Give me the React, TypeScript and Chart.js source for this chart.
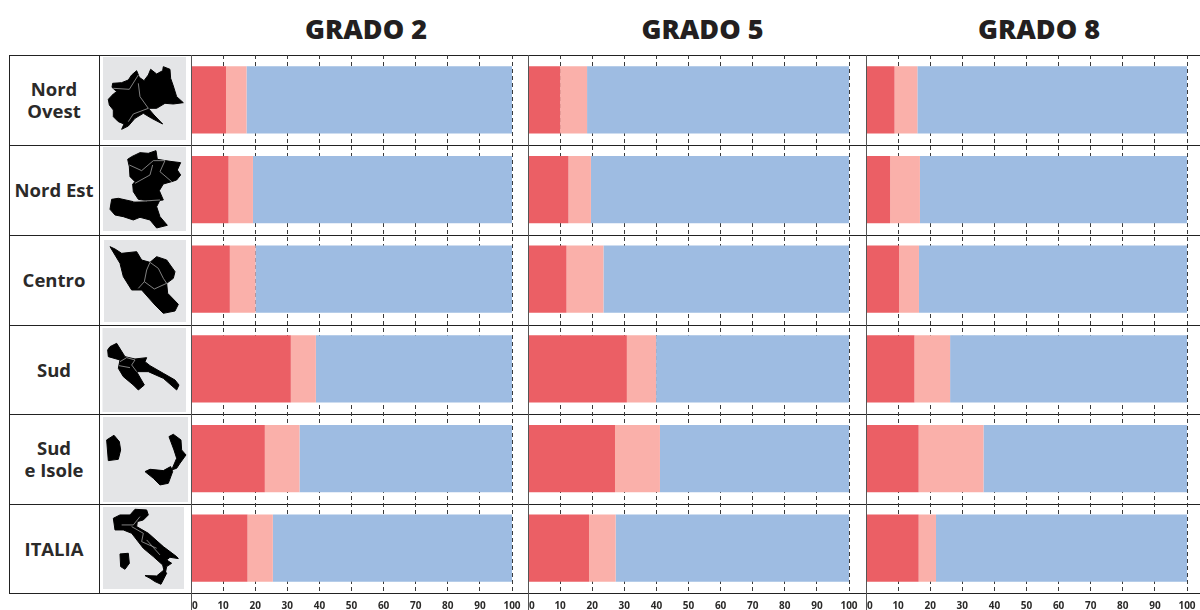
import React, { useEffect, useRef } from "react";
import { Chart, registerables } from "chart.js";

Chart.register(...registerables);

const regions = ["Nord Ovest", "Nord Est", "Centro", "Sud", "Sud e Isole", "ITALIA"];
const grades = ["GRADO 2", "GRADO 5", "GRADO 8"];
const tickValues = [0, 10, 20, 30, 40, 50, 60, 70, 80, 90, 100];

const grado2Red = [10.9, 11.7, 12.1, 31.1, 23, 17.6];
const grado2Pink = [6.4, 7.6, 8, 7.8, 10.8, 7.9];
const grado2Blue = [82.7, 80.7, 79.9, 61.1, 66.2, 74.5];

const grado5Red = [10, 12.6, 12, 30.8, 27.1, 19];
const grado5Pink = [8.4, 7, 11.5, 9.1, 14, 8.3];
const grado5Blue = [81.6, 80.4, 76.5, 60.1, 58.9, 72.7];

const grado8Red = [8.9, 7.5, 10.3, 15.1, 16.4, 16.4];
const grado8Pink = [7.1, 9.3, 6.2, 11.1, 20.2, 5.4];
const grado8Blue = [84, 83.2, 83.5, 73.8, 63.4, 78.2];

const panelValues = [
  [grado2Red, grado2Pink, grado2Blue],
  [grado5Red, grado5Pink, grado5Blue],
  [grado8Red, grado8Pink, grado8Blue],
];
const seriesNames = ["Rosso", "Rosa", "Azzurro"];
const seriesColors = ["#EB5F65", "#FAB0AA", "#9EBCE2"];

const PANEL_X = [191, 528, 866];
const PANEL_W = 321;
const PAD = 16;
const TOP = 55;
const BOTTOM = 593;
const ROW_LINES = [55, 145, 235, 325, 414, 504, 593];

const FONT = '"Open Sans", "Noto Sans", sans-serif';

function Panel({ index }: { index: number }) {
  const ref = useRef<HTMLCanvasElement>(null);
  useEffect(() => {
    const chart = new Chart(ref.current!, {
      type: "bar",
      data: {
        labels: regions,
        datasets: panelValues[index].map((values, i) => ({
          label: seriesNames[i],
          data: values,
          backgroundColor: seriesColors[i],
          borderWidth: 0,
          barPercentage: 0.75,
          categoryPercentage: 1,
        })),
      },
      options: {
        indexAxis: "y",
        responsive: false,
        animation: false,
        layout: { padding: { left: PAD, right: PAD, top: 0, bottom: 0 }, autoPadding: false },
        plugins: { legend: { display: false }, tooltip: { enabled: false }, title: { display: false } },
        scales: {
          x: {
            stacked: true,
            min: 0,
            max: 100,
            afterFit: (s: any) => { s.height = 610 - BOTTOM; },
            afterBuildTicks: (s: any) => { s.ticks = tickValues.map((value) => ({ value })); },
            border: { display: false, dash: [4, 3] },
            grid: { color: "#3a3a3a", lineWidth: 1, drawTicks: false },
            ticks: {
              autoSkip: false,
              maxRotation: 0,
              padding: 7,
              color: "#2b2a29",
              font: { family: FONT, size: 10, weight: "bold" },
              callback: (v: number) => (v === 0 ? "   0" : String(v)),
            },
          },
          y: { stacked: true, display: false, grid: { display: false } },
        },
      },
    } as any);
    return () => chart.destroy();
  }, [index]);
  return (
    <canvas
      ref={ref}
      width={PANEL_W + 2 * PAD}
      height={610 - TOP}
      style={{ position: "absolute", left: PANEL_X[index] - PAD, top: TOP, display: "block" }}
    />
  );
}

const tiles = [
  [103, 57, 83, 83],
  [103, 147, 83, 84],
  [104, 240, 82, 82],
  [102.5, 328, 83.5, 84],
  [103, 417, 85, 85],
  [103, 507, 81, 82],
];

const maps: { shapes: string[]; borders: string[] }[] = [
  {
    shapes: ["M325,298 L340,282 L350,275 L336,262 L338,250 L365,248 L385,240 L395,225 L410,212 L418,232 L432,242 L445,225 L452,208 L470,222 L488,212 L490,200 L510,208 L512,235 L520,258 L530,290 L550,308 L520,312 L495,310 L470,325 L445,325 L462,345 L488,372 L455,355 L430,340 L405,355 L385,378 L365,388 L372,372 L355,365 L340,350 L340,330 L328,315 Z"],
    borders: ["M340,265 L388,268 L415,225 M415,250 L420,290 L445,325 L400,342 L385,365"],
  },
  {
    shapes: [
      "M383,478 L395,470 L420,458 L445,460 L468,452 L472,478 L510,484 L542,488 L532,510 L542,525 L530,540 L515,545 L490,552 L478,572 L490,600 L470,602 L445,603 L415,598 L400,575 L398,552 L405,545 L390,530 L388,500 Z",
      "M330,628 L335,598 L355,595 L400,605 L440,605 L480,600 L470,620 L480,650 L502,676 L470,684 L450,660 L420,652 L400,660 L370,650 L345,645 Z",
    ],
    borders: ["M388,495 L425,512 L460,482 L495,482 L480,515 L515,545 M458,495 L450,525 L405,550 M400,605 L480,600"],
  },
  {
    shapes: ["M45,35 L60,42 L80,55 L125,50 L140,75 L165,82 L185,65 L215,75 L240,110 L235,130 L215,145 L218,175 L250,208 L240,228 L205,235 L180,210 L140,165 L110,165 L85,125 L75,85 Z"],
    borders: ["M165,82 L190,100 L205,130 L215,145 L178,162 L148,140 L155,105 Z M148,140 L130,160"],
  },
  {
    shapes: ["M38,345 L45,335 L65,325 L90,365 L120,372 L155,368 L150,380 L165,392 L205,415 L240,435 L252,450 L245,465 L205,430 L160,410 L125,410 L148,450 L130,465 L115,450 L85,425 L70,400 L75,375 L40,365 Z"],
    borders: ["M75,380 L95,368 L120,375 L110,390 L125,410 M72,392 L105,398"],
  },
  {
    shapes: [
      "M320,1320 L342,1306 L358,1325 L362,1350 L355,1378 L325,1382 Z",
      "M507,1310 L520,1303 L543,1320 L545,1350 L558,1365 L540,1390 L530,1405 L515,1410 L530,1375 L522,1350 Z",
      "M435,1415 L450,1408 L490,1412 L512,1400 L518,1415 L505,1450 L480,1455 L460,1435 Z",
    ],
    borders: [],
  },
  {
    shapes: [
      "M340,1555 L360,1545 L390,1545 L405,1528 L440,1530 L445,1545 L430,1560 L412,1565 L410,1580 L445,1600 L490,1640 L530,1670 L535,1676 L510,1672 L500,1680 L515,1690 L500,1700 L495,1725 L488,1695 L460,1670 L430,1645 L395,1600 L370,1590 L345,1590 Z",
      "M360,1662 L385,1660 L388,1690 L375,1708 L362,1700 Z",
      "M435,1727 L470,1728 L492,1710 L500,1720 L483,1753 L465,1745 L450,1735 Z",
    ],
    borders: ["M365,1575 L400,1575 L420,1550 M395,1580 L430,1600 L425,1625 L470,1645 M440,1620 L480,1665"],
  },
];

function Maps() {
  return (
    <svg
      width={1200}
      height={610}
      viewBox="0 0 1200 610"
      style={{ position: "absolute", left: 0, top: 0, display: "block" }}
    >
      {maps.map((m, i) => (
        <g key={i}>
          <rect x={tiles[i][0]} y={tiles[i][1]} width={tiles[i][2]} height={tiles[i][3]} fill="#E4E5E7" />
          <g transform={i === 2 || i === 3 ? "translate(95,235) scale(0.3333)" : "scale(0.3333)"}>
            {m.shapes.map((d, j) => (
              <path key={j} d={d} fill="#000" stroke="#000" strokeWidth={3} strokeLinejoin="round" />
            ))}
            {m.borders.map((d, j) => (
              <path key={j} d={d} fill="none" stroke="#9a9a9a" strokeWidth={2.5} />
            ))}
          </g>
        </g>
      ))}
    </svg>
  );
}

const labelLines = [["Nord", "Ovest"], ["Nord Est"], ["Centro"], ["Sud"], ["Sud", "e Isole"], ["ITALIA"]];
const titleCenters = [366, 702.5, 1039];

export default function App() {
  return (
    <div style={{ position: "absolute", left: 0, top: 0, width: 1200, height: 610, overflow: "hidden", background: "#fff", fontFamily: FONT }}>
      <Maps />
      {ROW_LINES.map((y) => (
        <div key={y} style={{ position: "absolute", left: 9, width: 1191, top: y, height: 1, background: "#222" }} />
      ))}
      {PANEL_X.map((_, i) => <Panel key={i} index={i} />)}
      {[9, 99].map((x) => (
        <div key={x} style={{ position: "absolute", left: x, top: TOP, width: 1, height: BOTTOM - TOP + 1, background: "#222" }} />
      ))}
      {PANEL_X.map((x) => (
        <div key={x} style={{ position: "absolute", left: x, top: TOP, width: 1, height: 610 - TOP, background: "#555" }} />
      ))}
      {grades.map((g, i) => (
        <div
          key={g}
          style={{
            position: "absolute", left: titleCenters[i] - 100, width: 200, top: 9, height: 40,
            lineHeight: "40px", textAlign: "center", fontSize: 27, fontWeight: 800, color: "#231F20",
          }}
        >
          {g}
        </div>
      ))}
      {labelLines.map((lines, i) => (
        <div
          key={i}
          style={{
            position: "absolute", left: 9, width: 90, top: ROW_LINES[i], height: ROW_LINES[i + 1] - ROW_LINES[i],
            display: "flex", flexDirection: "column", justifyContent: "center", alignItems: "center",
            fontSize: 18.5, lineHeight: "22px", fontWeight: 700, color: "#2B2A29",
          }}
        >
          {lines.map((l) => <div key={l} style={{ whiteSpace: "nowrap" }}>{l}</div>)}
        </div>
      ))}
    </div>
  );
}
